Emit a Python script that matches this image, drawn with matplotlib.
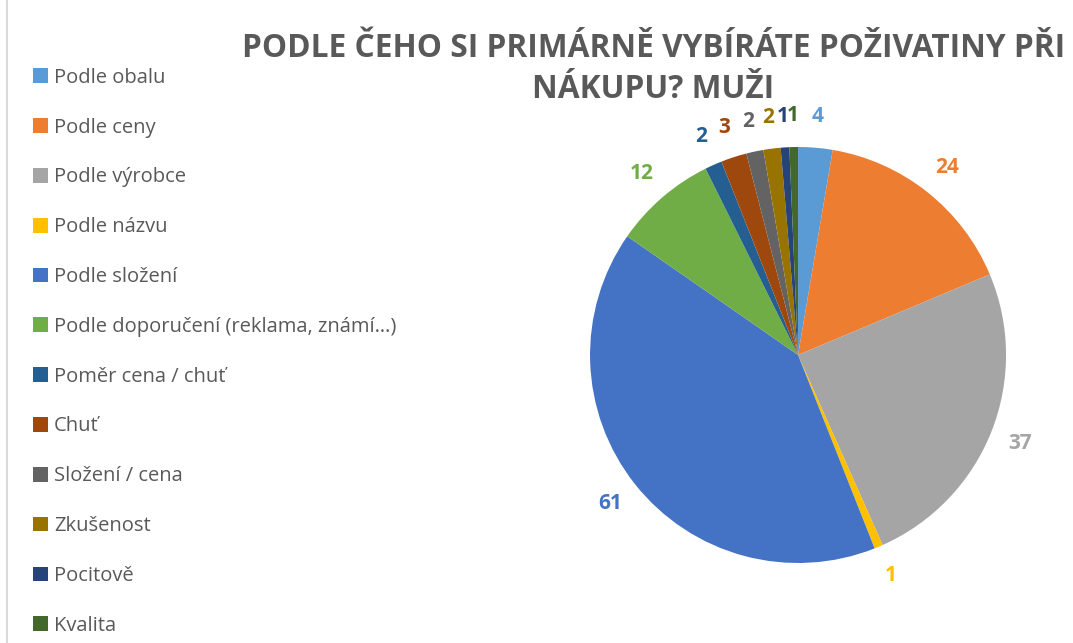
import matplotlib.pyplot as plt
from matplotlib.patches import Patch
from matplotlib.lines import Line2D

plt.rcParams['font.family'] = ['Open Sans', 'DejaVu Sans']

labels = [
    "Podle obalu",
    "Podle ceny",
    "Podle výrobce",
    "Podle názvu",
    "Podle složení",
    "Podle doporučení (reklama, známí…)",
    "Poměr cena / chuť",
    "Chuť",
    "Složení / cena",
    "Zkušenost",
    "Pocitově",
    "Kvalita",
]
values = [4, 24, 37, 1, 61, 12, 2, 3, 2, 2, 1, 1]
colors = ["#5B9BD5", "#ED7D31", "#A5A5A5", "#FFC000", "#4472C4", "#70AD47",
          "#255E91", "#9E480E", "#636363", "#997300", "#264478", "#43682B"]
title = "PODLE ČEHO SI PRIMÁRNĚ VYBÍRÁTE POŽIVATINY PŘI\nNÁKUPU? MUŽI"

fig = plt.figure(figsize=(10.73, 6.43), dpi=100)

# pie
ax = fig.add_axes([0.5499, 0.1244, 0.3877, 0.647])
wedges, texts = ax.pie(values, colors=colors, startangle=90, counterclock=False,
                       labels=[str(v) for v in values], labeldistance=1.15,
                       wedgeprops=dict(linewidth=0))
for t, c in zip(texts, colors):
    t.set_color(c)
    t.set_fontweight('bold')
    t.set_fontsize(15)
    t.set_ha('center')
    t.set_va('center')
ax.set_xlim(-1, 1)
ax.set_ylim(-1, 1)
ax.set_aspect('equal')

fig.text(0.609, 0.893, title, ha='center', va='center', fontsize=22.8,
         fontweight='bold', color='#595959', linespacing=1.3)

# legend
handles = [Patch(facecolor=c, edgecolor='none') for c in colors]
fig.legend(handles, labels, loc='upper left', bbox_to_anchor=(0.023, 0.907),
           frameon=False, fontsize=14.5, labelcolor='#595959',
           handlelength=0.75, handleheight=0.75, handletextpad=0.3,
           labelspacing=1.48, borderaxespad=0)

# chart border
fig.add_artist(Line2D([7 / 1073, 7 / 1073], [0, 1], color='#D9D9D9', lw=1.5))

fig.savefig('out.png', dpi=100)
